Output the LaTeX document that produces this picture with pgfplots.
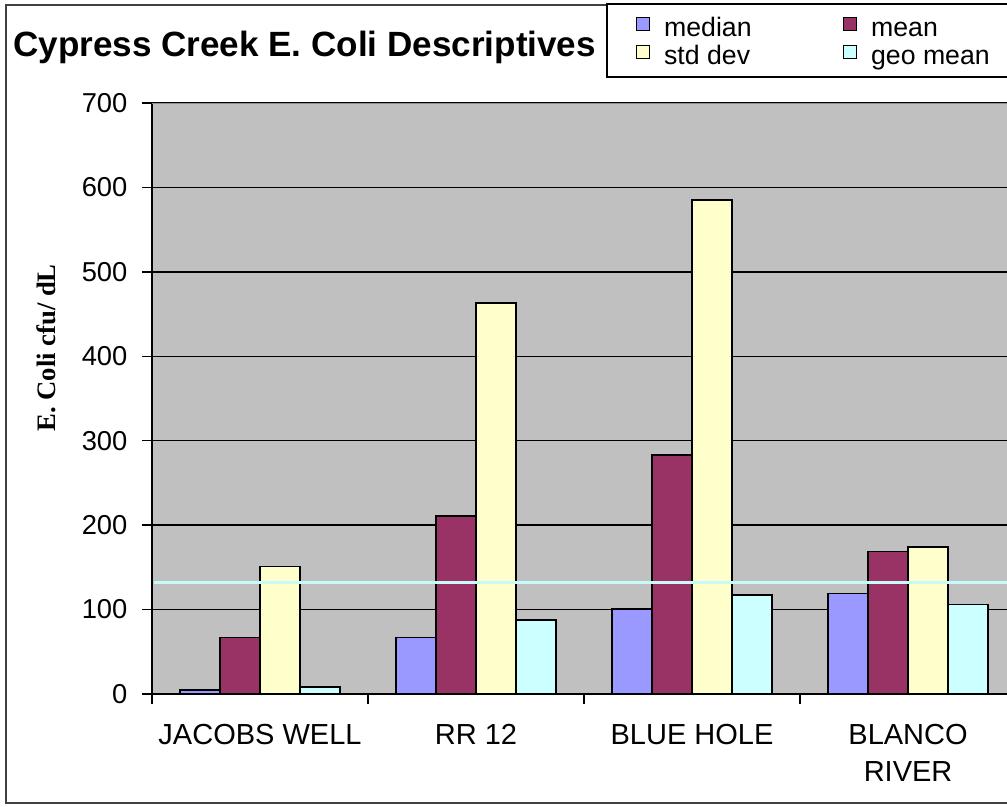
\documentclass[border=0pt]{standalone}
\usepackage{fontspec}
\setmainfont{Liberation Sans}
\newfontfamily\labelserif{Liberation Serif}
\usepackage{pgfplots}
\pgfplotsset{compat=1.18}

\definecolor{plotgray}{HTML}{C0C0C0}
\definecolor{cmedian}{HTML}{9999FF}
\definecolor{cmean}{HTML}{993366}
\definecolor{cstd}{HTML}{FFFFCC}
\definecolor{cgeo}{HTML}{CCFFFF}
\definecolor{stdline}{HTML}{C8FAFA}

\pgfplotsset{
  mybar/.style={ybar, bar width=30pt, draw=black, line width=1.2pt,
    legend image code/.code={\draw[##1, draw=black, line width=0.9pt] (0pt,0pt) rectangle (9.5pt,9.5pt);}},
}

\begin{document}
\begin{tikzpicture}[x=0.75pt,y=-0.75pt]
\useasboundingbox (0,0) rectangle (1007,807);
\clip (0,0) rectangle (1007,807);
\fill[white] (0,0) rectangle (1007,807);
% chart frame and legend box
\draw[black!75, line width=1.5pt] (6,5) rectangle (1030,803);
\draw[black, line width=1.2pt, fill=white] (607,4) rectangle (1030,77);
\node[anchor=base west, inner sep=0pt, font=\fontsize{26.3}{31}\selectfont\bfseries] at (13,56) {Cypress Creek E. Coli Descriptives};

\begin{axis}[
  at={(114pt,-520.5pt)}, anchor=south west,
  scale only axis, width=641.25pt, height=443.25pt,
  xmin=-0.5, xmax=3.458, ymin=0, ymax=700,
  axis x line*=bottom, axis y line*=left,
  axis line style={-, black, line width=1.5pt},
  axis background/.style={fill=plotgray},
  /pgf/number format/assume math mode=true,
  ytick={0,100,...,700},
  ymajorgrids, major grid style={black, line width=1pt},
  xtick={0,1,2,3},
  xticklabels={JACOBS WELL, RR 12, BLUE HOLE, {BLANCO\\RIVER}},
  minor xtick={-0.5,0.5,1.5,2.5},
  major x tick style={draw=none},
  tick align=outside,
  major tick length=7.5pt, minor tick length=7.5pt,
  tick style={black, line width=1pt},
  yticklabel style={font=\fontsize{20.5}{24}\selectfont, inner sep=0pt},
  yticklabel shift=10.75pt,
  xticklabel style={font=\fontsize{21.75}{27.75}\selectfont, align=center, inner sep=0pt},
  xticklabel shift=15pt,
  ylabel={E. Coli cfu/ dL},
  ylabel style={font=\labelserif\bfseries\fontsize{20}{24}\selectfont, at={(axis description cs:-0.124,0.5855)}, anchor=center},
  legend columns=2, legend cell align=left,
  legend style={at={(axis description cs:0.5661,1.1459)}, anchor=north west,
    draw=none, fill=none, inner sep=0pt, font=\fontsize{20}{24}\selectfont,
    row sep=1.75pt, nodes={inner sep=0pt, text height=14pt, text depth=4.5pt},
    /tikz/every odd column/.append style={column sep=10.5pt},
    /tikz/every even column/.append style={column sep=68.75pt}},
]
\addplot[mybar, fill=cmedian, bar shift=-45pt] coordinates {(0,5) (1,67) (2,101) (3,119)};
\addplot[mybar, fill=cmean, bar shift=-15pt] coordinates {(0,67) (1,211) (2,283) (3,169)};
\addplot[mybar, fill=cstd, bar shift=15pt] coordinates {(0,151) (1,463) (2,585) (3,174)};
\addplot[mybar, fill=cgeo, bar shift=45pt] coordinates {(0,8) (1,88) (2,117) (3,106)};
\legend{median, mean, std dev, geo mean}
% reference level line
\addplot[forget plot, stdline, line width=1.8pt] coordinates {(-0.49,132) (3.6,132)};
\draw[black!45, line width=1pt] (rel axis cs:0,1) -- (rel axis cs:1,1);
\end{axis}
\end{tikzpicture}
\end{document}
